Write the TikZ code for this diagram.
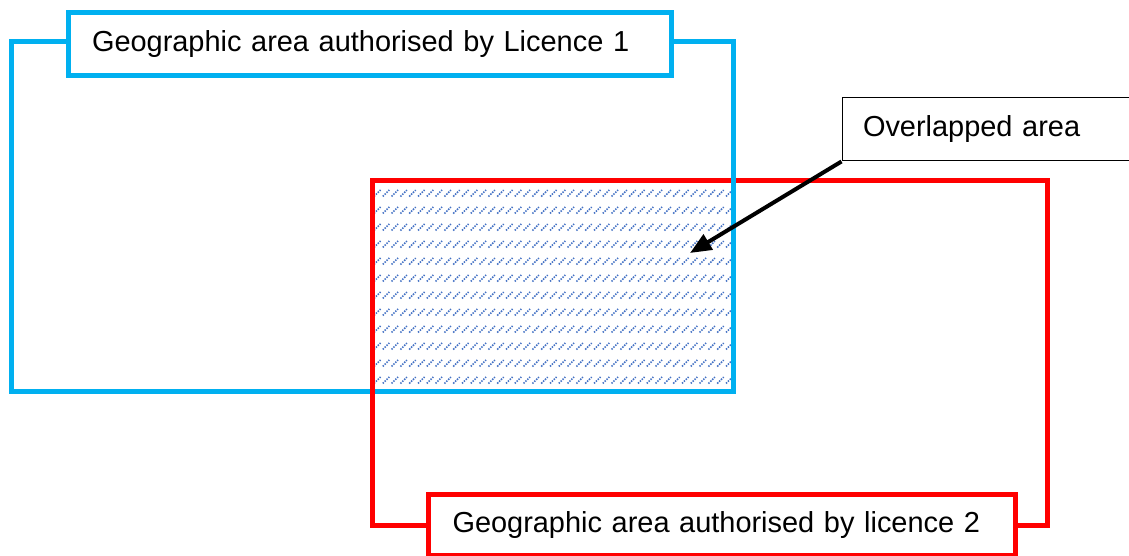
\documentclass[tikz,border=0pt]{standalone}
\usepackage{fontspec}
\setmainfont{Liberation Sans}
\usetikzlibrary{arrows.meta}
\definecolor{licblue}{RGB}{0,176,240}
\definecolor{licred}{RGB}{255,0,0}
\definecolor{hatchblue}{RGB}{68,114,196}

\begin{document}
\begin{tikzpicture}[x=0.75pt,y=-0.75pt,
  arealine/.style={line width=3.75pt, line join=miter},
  labelbox/.style={draw, fill=white, line width=3.75pt, align=left,
    inner xsep=18pt, inner ysep=0pt, font=\fontsize{21.7}{26}\selectfont},
  notebox/.style={draw=black, fill=white, line width=0.75pt, align=left,
    inner xsep=15.75pt, inner ysep=0pt, font=\fontsize{21.7}{26}\selectfont},
  hatchstroke/.style={hatchblue, line width=1.2pt, dash pattern=on 1.1pt off 0.9pt},
  pointer/.style={line width=3pt, -{Triangle[length=16pt,width=13pt]}}
]
\useasboundingbox (0,0) rectangle (1129,556);
\clip (0,0) rectangle (1129,556);

% dotted hatching of the shared region
\begin{scope}
  \clip (372.5,180.5) rectangle (733,391);
  \foreach \r in {0,...,11} {
    \foreach \c in {0,...,41} {
      \draw[hatchstroke] ({374+8.8*\c},{196.5+17*\r}) -- ++(6.5,-6.5);
    }
  }
\end{scope}

% licence areas
\draw[arealine, licblue] (11,42) rectangle (733,391);
\draw[arealine, licred] (372.5,180.5) rectangle (1047.5,525.5);
\draw[arealine, licblue] (733,170) -- (733,192);

% labels
\node[labelbox, draw=licblue, minimum height=47.6pt, text width=416.25pt]
  (lic1) at (369.5,44.25) {Geographic area authorised by Licence 1};
\node[labelbox, draw=licred, minimum height=45.4pt, text width=404.25pt]
  (lic2) at (722,524.75) {Geographic area authorised by licence 2};
\node[notebox, minimum height=47.6pt, text width=188.25pt]
  (ovl) at (988.5,129.25) {Overlapped area};

% pointer into the shared region
\coordinate (tip) at (690,253);
\draw[pointer] (ovl.south west) -- (tip);
\end{tikzpicture}
\end{document}
